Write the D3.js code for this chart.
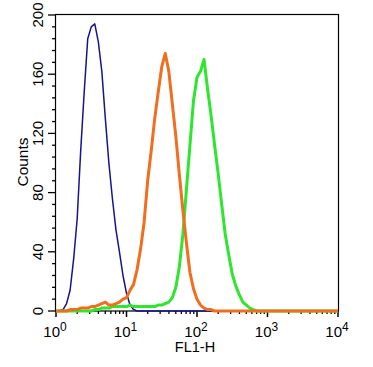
<!DOCTYPE html>
<html>
<head>
<meta charset="utf-8">
<script src="https://cdn.jsdelivr.net/npm/d3@7"></script>
<style>
  body { margin: 0; background: #fff; }
  svg { display: block; font-family: "Liberation Sans", Arial, sans-serif; }
</style>
</head>
<body>
<svg id="chart" width="373" height="367"></svg>
<script>
// FL1-H bins, in decades (log10 of the channel value)
var bins = [0.00, 0.05, 0.10, 0.15, 0.20, 0.25, 0.30, 0.35, 0.40, 0.45,
            0.50, 0.55, 0.60, 0.65, 0.70, 0.75, 0.80, 0.85, 0.90, 0.95,
            1.00, 1.05, 1.10, 1.15, 1.20, 1.25, 1.30, 1.35, 1.40, 1.45,
            1.50, 1.55, 1.60, 1.65, 1.70, 1.75, 1.80, 1.85, 1.90, 1.95,
            2.00, 2.05, 2.10, 2.15, 2.20, 2.25, 2.30, 2.35, 2.40, 2.45,
            2.50, 2.55, 2.60, 2.65, 2.70, 2.75, 2.80, 2.85, 2.90, 2.95,
            3.00, 3.05, 3.10, 3.15, 3.20, 3.25, 3.30, 3.35, 3.40, 3.45,
            3.50, 3.55, 3.60, 3.65, 3.70, 3.75, 3.80, 3.85, 3.90, 3.95, 4.00];

// counts per bin
var blueCounts = [0, 0, 1, 5, 14, 35, 62, 108, 148, 184,
                  192, 194, 182, 162, 130, 100, 76, 55, 40, 24,
                  12, 4, 1, 0, 0, 0, 0, 0, 0, 0,
                  0, 0, 0, 0, 0, 0, 0, 0, 0, 0,
                  0, 0, 0, 0, 0, 0, 0, 0, 0, 0,
                  0, 0, 0, 0, 0, 0, 0, 0, 0, 0,
                  0, 0, 0, 0, 0, 0, 0, 0, 0, 0,
                  0, 0, 0, 0, 0, 0, 0, 0, 0, 0, 0];
var greenCounts = [0, 0, 0, 0, 0, 0, 0, 0, 0, 0,
                   0, 1, 1, 2, 2, 2, 3, 3, 3, 3,
                   3, 4, 3, 3, 3, 3, 3, 3, 3, 4,
                   4, 5, 6, 9, 16, 30, 52, 82, 112, 142,
                   158, 162, 170, 150, 132, 112, 93, 72, 52, 38,
                   25, 17, 11, 6, 4, 2, 1, 0, 0, 0,
                   0, 0, 0, 0, 0, 0, 0, 0, 0, 0,
                   0, 0, 0, 0, 0, 0, 0, 0, 0, 0, 0];
var orangeCounts = [0, 0, 0, 0, 1, 1, 1, 2, 2, 2,
                    3, 3, 4, 5, 6, 4, 4, 5, 6, 8,
                    9, 14, 18, 28, 42, 60, 88, 108, 130, 148,
                    165, 174, 162, 140, 118, 92, 68, 46, 26, 15,
                    8, 4, 2, 1, 1, 0, 0, 0, 0, 0,
                    0, 0, 0, 0, 0, 0, 0, 0, 0, 0,
                    0, 0, 0, 0, 0, 0, 0, 0, 0, 0,
                    0, 0, 0, 0, 0, 0, 0, 0, 0, 0, 0];

var yTicks = [0, 40, 80, 120, 160, 200];
var xDecades = [1, 10, 100, 1000, 10000];
var xLabels = ["0", "1", "2", "3", "4"];

var svg = d3.select("#chart");
var plotLeft = 56, plotRight = 338, plotTop = 15, plotBottom = 311;

var x = d3.scaleLog().domain([1, 10000]).range([plotLeft, plotRight]);
var y = d3.scaleLinear().domain([0, 200]).range([plotBottom, plotTop]);

// minor ticks on x: 2..9 in each decade
var xMinor = [];
for (var d = 0; d < 4; d++) {
  for (var k = 2; k < 10; k++) xMinor.push(k * Math.pow(10, d));
}
var yMinor = d3.range(0, 201, 8).filter(function(v) { return v % 40 != 0; });

// frame
svg.append("rect")
    .attr("x", plotLeft - 0.5).attr("y", plotTop - 0.5)
    .attr("width", plotRight - plotLeft + 1).attr("height", plotBottom - plotTop + 0.5)
    .attr("fill", "none").attr("stroke", "#000").attr("stroke-width", 1.2);

// y ticks
svg.append("g").selectAll("line").data(yTicks).enter().append("line")
    .attr("x1", plotLeft - 8).attr("x2", plotLeft)
    .attr("y1", function(d) { return y(d); }).attr("y2", function(d) { return y(d); })
    .attr("stroke", "#000").attr("stroke-width", 1.3);
svg.append("g").selectAll("line").data(yMinor).enter().append("line")
    .attr("x1", plotLeft - 4).attr("x2", plotLeft)
    .attr("y1", function(d) { return y(d); }).attr("y2", function(d) { return y(d); })
    .attr("stroke", "#000").attr("stroke-width", 1.3);

svg.append("g").selectAll("text").data(yTicks).enter().append("text")
    .attr("transform", function(d) { return "translate(" + (plotLeft - 13) + "," + y(d) + ") rotate(-90)"; })
    .attr("text-anchor", "middle")
    .attr("font-size", 15)
    .text(function(d) { return d; });

svg.append("text")
    .attr("transform", "translate(28,162) rotate(-90)")
    .attr("text-anchor", "middle")
    .attr("font-size", 15.5)
    .text("Counts");

// x ticks
svg.append("g").selectAll("line").data(xDecades).enter().append("line")
    .attr("x1", function(d) { return x(d); }).attr("x2", function(d) { return x(d); })
    .attr("y1", plotBottom).attr("y2", plotBottom + 6)
    .attr("stroke", "#000").attr("stroke-width", 1.5);
svg.append("g").selectAll("line").data(xMinor).enter().append("line")
    .attr("x1", function(d) { return x(d); }).attr("x2", function(d) { return x(d); })
    .attr("y1", plotBottom).attr("y2", plotBottom + 3)
    .attr("stroke", "#000").attr("stroke-width", 1.3);

var xl = svg.append("g").selectAll("text").data(xDecades).enter().append("text")
    .attr("x", function(d) { return x(d) - 1; })
    .attr("y", 337)
    .attr("text-anchor", "middle")
    .attr("font-size", 15);
xl.append("tspan").text("10");
xl.append("tspan")
    .attr("dy", -6)
    .attr("font-size", 12)
    .text(function(d, i) { return xLabels[i]; });

svg.append("text")
    .attr("x", 195).attr("y", 352)
    .attr("text-anchor", "middle")
    .attr("font-size", 14.5)
    .text("FL1-H");

// histograms
function drawHist(counts, color, width) {
  var line = d3.line()
      .x(function(d, i) { return x(Math.pow(10, bins[i])); })
      .y(function(d) { return y(d); });
  svg.append("path")
      .datum(counts)
      .attr("d", line)
      .attr("fill", "none")
      .attr("stroke", color)
      .attr("stroke-width", width)
      .attr("stroke-linejoin", "round");
}

drawHist(blueCounts, "#14148c", 1.5);
drawHist(greenCounts, "#2ee62e", 3);
drawHist(orangeCounts, "#f06e1e", 3);
</script>
</body>
</html>
